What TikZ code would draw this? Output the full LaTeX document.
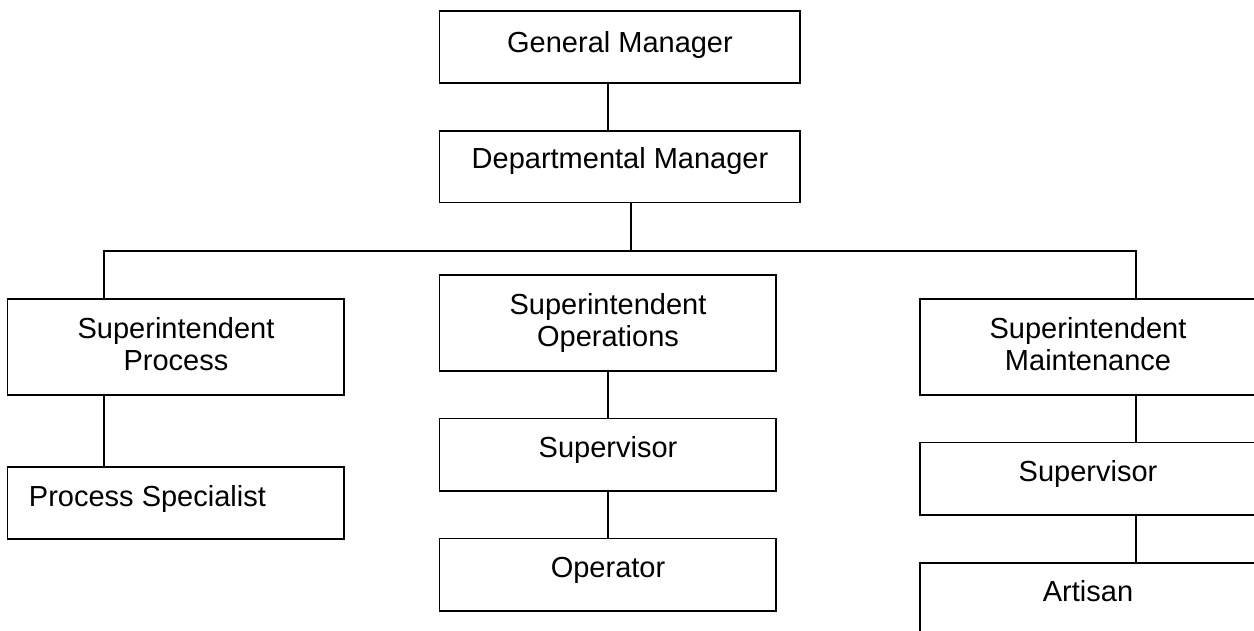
\documentclass[tikz,border=0pt]{standalone}
\usepackage{fontspec}
\setmainfont{Liberation Sans}
\begin{document}
\begin{tikzpicture}[x=0.6pt,y=-0.6pt,
  box/.style={draw=black,line width=1pt,rectangle,inner sep=0pt,outer sep=0pt},
  wide/.style={box,minimum width=216.3pt,minimum height=43pt},
  unit/.style={box,minimum width=201.9pt,minimum height=43.3pt},
  tall/.style={box,minimum width=201.9pt,minimum height=57.4pt},
  lbl/.style={inner sep=0pt,outer sep=0pt,align=center,anchor=north,
    font=\fontsize{17.4pt}{19.2pt}\selectfont},
  wire/.style={draw=black,line width=1pt}]
\clip (0,0) rectangle (1254,631);
\fill[white] (0,0) rectangle (1254,631);

% boxes
\node[wide] (gm)  at (619.75,46.85) {};
\node[wide] (dm)  at (619.75,166.7) {};
\node[tall] (sp)  at (175.75,346.85) {};
\node[unit] (ps)  at (175.75,502.85) {};
\node[tall] (so)  at (607.85,322.85) {};
\node[unit] (sv1) at (607.85,454.7) {};
\node[unit] (op)  at (607.85,574.7) {};
\node[tall] (sm)  at (1087.95,346.85) {};
\node[unit] (sv2) at (1087.95,478.65) {};
\node[unit] (art) at (1087.95,598.85) {};

% texts
\node[lbl] (gmt)  at (620,31) {General Manager};
\node[lbl] (dmt)  at (620,147) {Departmental Manager};
\node[lbl] (spt)  at (176,317) {Superintendent\\Process};
\node[lbl,anchor=north west] (pst) at (29,485) {Process Specialist};
\node[lbl] (sot)  at (608,293) {Superintendent\\Operations};
\node[lbl] (sv1t) at (608,436) {Supervisor};
\node[lbl] (opt)  at (608,557) {Operator};
\node[lbl] (smt)  at (1088,317) {Superintendent\\Maintenance};
\node[lbl] (sv2t) at (1088,460) {Supervisor};
\node[lbl] (artt) at (1088,580) {Artisan};

% bus line below the departmental manager
\coordinate (busL) at (104,250.7);
\coordinate (busM) at (631,250.7);
\coordinate (busR) at (1136,250.7);
\coordinate (gmx) at (607.7,0);

% connectors
\draw[wire] (gm.south -| gmx) -- (dm.north -| gmx);
\draw[wire] (dm.south -| busM) -- (busM);
\draw[wire] (sp.north -| busL) -- (busL) -- (busR) -- (sm.north -| busR);
\draw[wire] (sp.south -| busL) -- (ps.north -| busL);
\draw[wire] (so.south) -- (sv1.north);
\draw[wire] (sv1.south) -- (op.north);
\draw[wire] (sm.south -| busR) -- (sv2.north -| busR);
\draw[wire] (sv2.south -| busR) -- (art.north -| busR);
\end{tikzpicture}
\end{document}
